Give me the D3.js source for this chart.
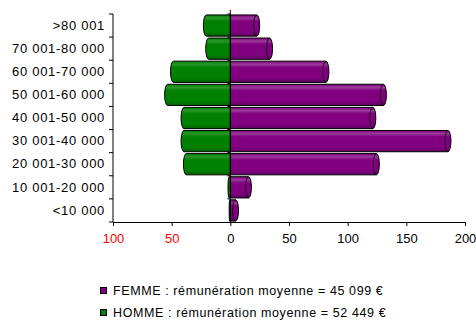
<!DOCTYPE html>
<html><head><meta charset="utf-8">
<script src="https://cdn.jsdelivr.net/npm/d3@7"></script>
<style>body{margin:0;background:#fff}svg{display:block}text{font-family:"Liberation Sans",Arial,sans-serif}</style>
</head><body><svg id="c" width="476" height="320"></svg>
<script>
const categories = ["<10 000","10 001-20 000","20 001-30 000","30 001-40 000","40 001-50 000","50 001-60 000","60 001-70 000","70 001-80 000",">80 001"];
const femme = [7,18,127,188,124,133,84,36,25];
const homme = [1,2,40,42,42,56,51,21,23];
const xTicks = [-100,-50,0,50,100,150,200];
const legendLabels = ["FEMME : rémunération moyenne = 45 099 €","HOMME : rémunération moyenne = 52 449 €"];

const svg = d3.select("#c");
const x = d3.scaleLinear().domain([-100,200]).range([113,465]);
const y = d3.scaleBand().domain(categories.slice().reverse()).range([14,222]).paddingInner(0.08).paddingOuter(0.04);

const defs = svg.append("defs");
function grad(id, c1, c2, c3){
  const g = defs.append("linearGradient").attr("id",id).attr("x1",0).attr("y1",0).attr("x2",0).attr("y2",1);
  g.append("stop").attr("offset","0%").attr("stop-color",c1);
  g.append("stop").attr("offset","15%").attr("stop-color",c2);
  g.append("stop").attr("offset","30%").attr("stop-color",c1);
  g.append("stop").attr("offset","80%").attr("stop-color",c1);
  g.append("stop").attr("offset","100%").attr("stop-color",c3);
}
grad("gf","#800080","#9a3a9a","#5e005e");
grad("gh","#008000","#2a962a","#005e00");

const data = categories.map((c,i)=>({c, f:femme[i], h:homme[i]}));
const bh = y.bandwidth();

// femme bars
const gF = svg.append("g");
data.forEach(d=>{
  const x0 = x(0), x1 = x(d.f), yy = y(d.c);
  const r = Math.min(3, (x1-x0)/2);
  gF.append("path").attr("d",`M${x0},${yy}H${x1-r}A${r},${bh/2} 0 0 1 ${x1-r},${yy+bh}H${x0}Z`)
    .attr("fill","url(#gf)").attr("stroke","#000").attr("stroke-width",1);
  gF.append("path").attr("d",`M${x1-r},${yy}A${r},${bh/2} 0 0 0 ${x1-r},${yy+bh}`)
    .attr("fill","none").attr("stroke","#000").attr("stroke-width",0.8);
});
const gH = svg.append("g");
data.forEach(d=>{
  const x0 = x(0), x1 = x(-d.h), yy = y(d.c);
  const r = Math.min(3, (x0-x1)/2);
  gH.append("path").attr("d",`M${x0},${yy}H${x1+r}A${r},${bh/2} 0 0 0 ${x1+r},${yy+bh}H${x0}Z`)
    .attr("fill","url(#gh)").attr("stroke","#000").attr("stroke-width",1);
});

// zero line with ticks
svg.append("line").attr("x1",x(0)).attr("x2",x(0)).attr("y1",10).attr("y2",222).attr("stroke","#000").attr("stroke-width",1);
// left category axis
const yAxis = d3.axisLeft(y).tickSize(0).tickPadding(8);
const ga = svg.append("g").attr("transform",`translate(${x(-100)},0)`).call(yAxis);
ga.select(".domain").remove();
ga.selectAll("text").attr("font-size",13).attr("fill","#000").style("letter-spacing","0.7px").attr("font-family",null);
svg.append("line").attr("x1",x(-100)).attr("x2",x(-100)).attr("y1",14).attr("y2",222).attr("stroke","#000");
const bounds = d3.range(categories.length+1).map(i=>14+i*(208/categories.length));
svg.selectAll(".bt").data(bounds).join("line").attr("x1",x(-100)-4).attr("x2",x(-100)).attr("y1",d=>d).attr("y2",d=>d).attr("stroke","#000");
svg.selectAll(".zt").data(bounds.slice(0,-1)).join("line").attr("x1",x(0)-3).attr("x2",x(0)).attr("y1",d=>d).attr("y2",d=>d).attr("stroke","#000");

// bottom axis
const xAxis = d3.axisBottom(x).tickValues(xTicks).tickFormat(d=>Math.abs(d)).tickSize(4).tickPadding(8);
const gx = svg.append("g").attr("transform","translate(0,222)").call(xAxis);
gx.select(".domain").attr("d",`M${x(-100)},0.5H${x(200)}`);
gx.selectAll("text").attr("font-size",13).attr("font-family",null).attr("fill",d=>d<0?"#ff0000":"#000");

// legend
const lg = svg.append("g");
const lcol = ["#800080","#008000"];
legendLabels.forEach((t,i)=>{
  const yy = 287 + i*22;
  lg.append("rect").attr("x",100.5).attr("y",yy+0.5).attr("width",6).attr("height",6).attr("fill",lcol[i]).attr("stroke","#000");
  lg.append("text").attr("x",113).attr("y",yy+7.5).attr("font-size",12.5).style("letter-spacing","0.6px").attr("fill","#000").text(t);
});
</script></body></html>
